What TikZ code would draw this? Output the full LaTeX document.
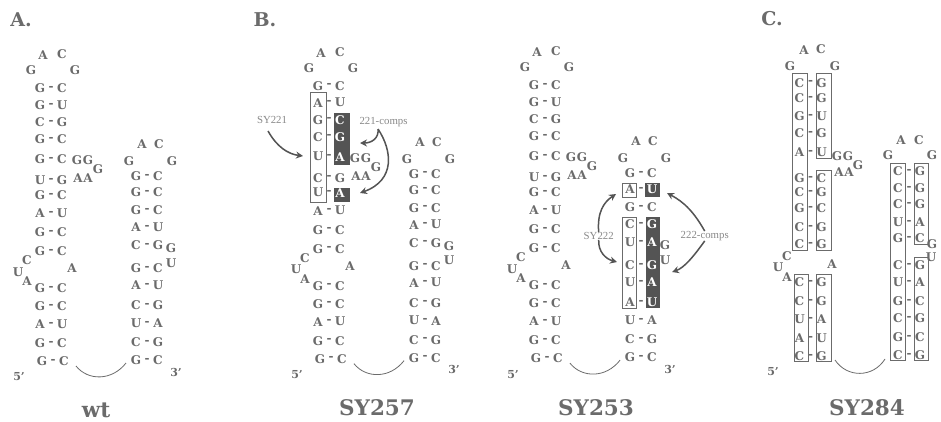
\documentclass[tikz,border=0pt]{standalone}
\usepackage{fontspec}
\setmainfont{DejaVu Serif}
\newfontfamily\labelfont{Liberation Serif}
\usetikzlibrary{arrows.meta}
\definecolor{ink}{gray}{0.42}
\definecolor{dark}{gray}{0.33}
\newcounter{ntc}
\tikzset{
  nt/.style={text=ink,inner sep=0pt,font=\bfseries\fontsize{12}{12}\selectfont},
  ntw/.style={nt,text=white},
  prime/.style={nt,font=\bfseries\fontsize{11}{11}\selectfont},
  panel/.style={text=ink,inner sep=0pt,font=\bfseries\fontsize{19}{19}\selectfont},
  title/.style={text=ink,inner sep=0pt,font=\bfseries\fontsize{21.5}{21.5}\selectfont},
  small/.style={text=ink!80,inner sep=0pt,font=\labelfont\fontsize{10.8}{10.8}\selectfont,fill=white,inner xsep=1pt},
  whitebox/.style={draw=ink,line width=0.9pt,fill=white},
  darkbox/.style={fill=dark,draw=none},
  loopline/.style={draw=ink,line width=0.8pt},
  curvearrow/.style={draw=dark,line width=1.5pt,-{Stealth[length=7pt,width=7pt]}}
}
% a single letter at x,y
\newcommand\nuc[4][nt]{\stepcounter{ntc}\node[#1] (n\arabic{ntc}) at (#2,#3) {#4};}
% a base pair: left letter, dash, right letter
\newcommand\bp[5][nt]{\nuc{#2}{#3}{#4}\nuc{#2+11}{#3}{-}\nuc[#1]{#2+22}{#3}{#5}}
% loops and bulges shared by panels A and B and SY253
\newcommand\outerparts{
  \nuc{43}{55}{A}\nuc{62}{54}{C}\nuc{31}{70}{G}\nuc{75}{70}{G}
  \nuc{77}{160}{G}\nuc{88}{160}{G}\nuc{98}{169}{G}\nuc{78}{178}{A}\nuc{88}{178}{A}
  \nuc{27}{260}{C}\nuc{18}{272}{U}\nuc{27}{281}{A}\nuc{72}{268}{A}
  \nuc{142}{144}{A}\nuc{159}{144}{C}\nuc{129}{161}{G}\nuc{172}{161}{G}
  \nuc{171}{248}{G}\nuc{171}{263}{U}
  \nuc[prime]{19}{377}{5'}\nuc[prime]{176}{372}{3'}
}
\newcommand\lowerleft{
  \foreach \ya/\lb/\rb in {232/G/C,251/G/C,288/G/C,306/G/C,324/A/U,343/G/C}{\bp{40}{\ya}{\lb}{\rb}}
  \bp{42}{361}{G}{C}
}
\newcommand\arcline{
  \coordinate (arcL) at (76,366);
  \coordinate (arcR) at (126,363);
  \draw[loopline] (arcL) .. controls (88,381) and (112,381) .. (arcR);
}
\begin{document}
\begin{tikzpicture}[x=1pt,y=-1pt]
\useasboundingbox (0,0) rectangle (941,421);
\fill[white] (0,0) rectangle (941,421);

%% Panel A
\node[panel] (labA) at (21,20) {A.};
\foreach \ya/\lb/\rb in {88/G/C,105/G/U,122/C/G,139/G/C,159/G/C,180/U/G,195/G/C,213/A/U}{\bp{40}{\ya}{\lb}{\rb}}
\lowerleft
\foreach \ya/\lb/\rb in {176/G/C,192/G/C,210/G/C,227/A/U,245/C/G,268/G/C,285/A/U,305/C/G,323/U/A,342/C/G,360/G/C}{\bp{136}{\ya}{\lb}{\rb}}
\outerparts
\arcline
\node[title] (tA) at (96,410) {wt};

%% Panel B, SY257
\node[panel] (labB) at (265,20) {B.};
\begin{scope}[shift={(278,-2.3)}]
  \draw[whitebox] (32.3,94.6) rectangle (48.7,204.6);
  \fill[darkbox] (56,115) rectangle (71.7,167.3);
  \fill[darkbox] (56,190) rectangle (71.7,204.6);
  \bp{40}{88}{G}{C}\bp{40}{105}{A}{U}
  \bp[ntw]{40}{122}{G}{C}\bp[ntw]{40}{139}{C}{G}\bp[ntw]{40}{159}{U}{A}
  \bp{40}{180}{C}{G}\bp[ntw]{40}{195}{U}{A}\bp{40}{213}{A}{U}
  \lowerleft
  \foreach \ya/\lb/\rb in {176/G/C,192/G/C,210/G/C,227/A/U,245/C/G,268/G/C,285/A/U,305/C/G,323/U/A,342/C/G,360/G/C}{\bp{136}{\ya}{\lb}{\rb}}
  \outerparts
  \arcline
\end{scope}
\node[title] (tB) at (377,408) {SY257};
\node[small] (sy221) at (272,120) {SY221};
\node[small] (c221) at (383.5,122) {221-comps};
\coordinate (a221) at (268,131);
\coordinate (b221) at (303,156);
\coordinate (s221) at (378,129);
\coordinate (e221a) at (360,143);
\coordinate (e221b) at (360,193);
\draw[curvearrow] (a221) .. controls (277,147) and (288,154) .. (b221);
\draw[curvearrow] (s221) .. controls (379,138) and (372,143) .. (e221a);
\draw[curvearrow] (s221) .. controls (392,150) and (396,180) .. (e221b);

%% SY253
\begin{scope}[shift={(494,-2.8)}]
  \foreach \ya/\lb/\rb in {88/G/C,105/G/U,122/C/G,139/G/C,159/G/C,180/U/G,195/G/C,213/A/U}{\bp{40}{\ya}{\lb}{\rb}}
  \lowerleft
  \draw[whitebox] (128,186.1) rectangle (142,200.1);
  \fill[darkbox] (151,186.1) rectangle (166,200.1);
  \draw[whitebox] (128,219.8) rectangle (142.7,310.8);
  \fill[darkbox] (151.7,219.8) rectangle (166.3,310.8);
  \bp{136}{176}{G}{C}\bp[ntw]{136}{192}{A}{U}\bp{136}{210}{G}{C}
  \bp[ntw]{136}{227}{C}{G}\bp[ntw]{136}{245}{U}{A}\bp[ntw]{136}{268}{C}{G}
  \bp[ntw]{136}{285}{U}{A}\bp[ntw]{136}{305}{A}{U}
  \bp{136}{323}{U}{A}\bp{136}{342}{C}{G}\bp{136}{360}{G}{C}
  \outerparts
  \arcline
\end{scope}
\node[title] (tC) at (596,408) {SY253};
\node[small] (sy222) at (598.7,236) {SY222};
\node[small] (c222) at (704.7,236) {222-comps};
\coordinate (e222a) at (616,194);
\coordinate (e222b) at (617,262);
\coordinate (e222c) at (667,193);
\coordinate (e222d) at (672,272);
\draw[curvearrow] (sy222.north) .. controls (597,212) and (604,202) .. (e222a);
\draw[curvearrow] (sy222.south) .. controls (598,252) and (606,259) .. (e222b);
\draw[curvearrow] (c222.north) .. controls (694,212) and (684,202) .. (e222c);
\draw[curvearrow] (c222.south) .. controls (694,256) and (684,268) .. (e222d);

%% Panel C, SY284
\node[panel] (labC) at (772,19) {C.};
\draw[whitebox] (792,73) rectangle (807.3,250);
\draw[whitebox] (816,73) rectangle (831.3,158);
\draw[whitebox] (816,170) rectangle (831.3,250);
\draw[whitebox] (794,274.3) rectangle (808.7,361.3);
\draw[whitebox] (816.7,274.3) rectangle (831.3,361.3);
\draw[whitebox] (890.3,163) rectangle (905,360.3);
\draw[whitebox] (914.3,163) rectangle (928.7,244.3);
\draw[whitebox] (914.3,257) rectangle (928.7,360.3);
\foreach \ya/\lb/\rb in {82.7/C/G,98/C/G,116/G/U,133/C/G,152/A/U,178/G/C,192/C/G,208/G/C,227/C/G,244/C/G,282/C/G,301/C/G,319/U/A,338/A/U,356/C/G}{\bp{799.5}{\ya}{\lb}{\rb}}
\foreach \ya/\lb/\rb in {171/C/G,188/C/G,204/C/G,222/U/A,238/G/C,265/C/G,282/U/A,301/G/C,318/C/G,337/G/C,355/C/G}{\bp{898}{\ya}{\lb}{\rb}}
\nuc{804}{50}{A}\nuc{821}{49}{C}\nuc{790}{66}{G}\nuc{835}{66}{G}
\nuc{837}{156}{G}\nuc{848}{156}{G}\nuc{858}{165}{G}\nuc{839}{172}{A}\nuc{849}{172}{A}
\nuc{787}{256}{C}\nuc{778}{267}{U}\nuc{787}{277}{A}\nuc{832}{264}{A}
\nuc{901}{140}{A}\nuc{919}{140}{C}\nuc{888}{155}{G}\nuc{932}{155}{G}
\nuc{932}{244}{G}\nuc{931}{257}{U}
\nuc[prime]{773}{372}{5'}
\coordinate (arcCL) at (835,360);
\coordinate (arcCR) at (885,359);
\draw[loopline] (arcCL) .. controls (847,378) and (873,378) .. (arcCR);
\node[title] (tD) at (867,408) {SY284};
\end{tikzpicture}
\end{document}
